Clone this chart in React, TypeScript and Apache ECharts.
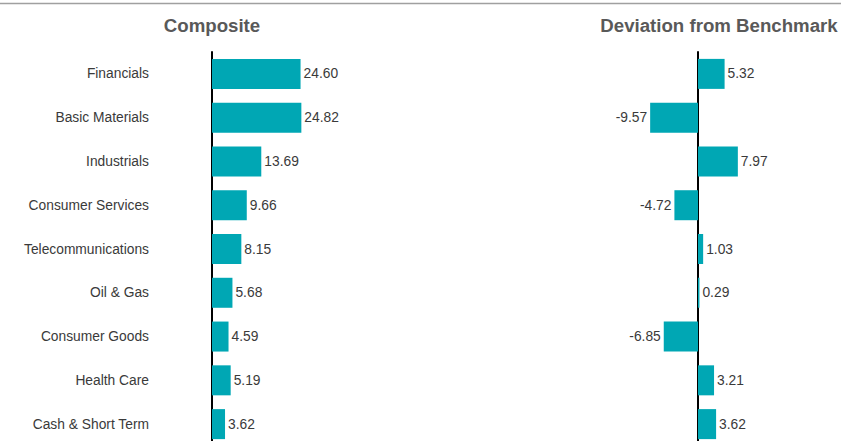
import React, { useEffect, useRef } from "react";
import * as echarts from "echarts";

const categories = [
  "Financials",
  "Basic Materials",
  "Industrials",
  "Consumer Services",
  "Telecommunications",
  "Oil & Gas",
  "Consumer Goods",
  "Health Care",
  "Cash & Short Term",
];
const compositeValues = [24.6, 24.82, 13.69, 9.66, 8.15, 5.68, 4.59, 5.19, 3.62];
const deviationValues = [5.32, -9.57, 7.97, -4.72, 1.03, 0.29, -6.85, 3.21, 3.62];
const panelTitles = ["Composite", "Deviation from Benchmark"];

const BAR = "#00A7B4";
const TXT = "#3a3a3a";
const FONT = "'Liberation Sans', Arial, sans-serif";

export default function App() {
  const ref = useRef<HTMLDivElement>(null);
  useEffect(() => {
    if (!ref.current) return;
    const chart = echarts.init(ref.current, null, { renderer: "svg" });
    const labelBase = {
      show: true,
      color: TXT,
      fontSize: 13.8,
      fontFamily: FONT,
      distance: 3,
      formatter: (p: any) => Number(p.value).toFixed(2),
    };
    chart.setOption({
      animation: false,
      backgroundColor: "#ffffff",
      grid: [
        { left: 212, top: 52, width: 108, height: 394, containLabel: false },
        { left: 638, top: 52, width: 120, height: 394, containLabel: false },
      ],
      xAxis: [
        { gridIndex: 0, type: "value", min: 0, max: 30, show: false },
        { gridIndex: 1, type: "value", min: -12, max: 12, show: false },
      ],
      yAxis: [
        {
          gridIndex: 0,
          type: "category",
          data: categories,
          inverse: true,
          axisLine: { show: true, lineStyle: { color: "#000", width: 2 } },
          axisTick: { show: false },
          splitLine: { show: false },
          axisLabel: {
            margin: 63,
            color: TXT,
            fontSize: 13.8,
            fontFamily: FONT,
          },
        },
        {
          gridIndex: 1,
          type: "category",
          data: categories,
          inverse: true,
          axisLine: { show: true, onZero: true, lineStyle: { color: "#000", width: 2 } },
          axisTick: { show: false },
          splitLine: { show: false },
          axisLabel: { show: false },
        },
      ],
      series: [
        {
          type: "bar",
          xAxisIndex: 0,
          yAxisIndex: 0,
          data: compositeValues,
          barWidth: 30,
          itemStyle: { color: BAR },
          label: { ...labelBase, position: "right" },
          z: 1,
        },
        {
          type: "bar",
          xAxisIndex: 1,
          yAxisIndex: 1,
          data: deviationValues.map((v) => ({
            value: v,
            label: { position: v < 0 ? "left" : "right" },
          })),
          barWidth: 30,
          itemStyle: { color: BAR },
          label: { ...labelBase },
          z: 1,
        },
      ],
      graphic: [
        {
          type: "line",
          shape: { x1: 0, y1: 3.5, x2: 841, y2: 3.5 },
          style: { stroke: "#a0a0a0", lineWidth: 1.5 },
        },
        {
          type: "text",
          x: 212,
          y: 25,
          style: {
            text: panelTitles[0],
            textAlign: "center",
            textVerticalAlign: "middle",
            fontSize: 18.67,
            fontWeight: "bold",
            fontFamily: FONT,
            fill: "#595959",
          },
        },
        {
          type: "text",
          x: 719,
          y: 25,
          style: {
            text: panelTitles[1],
            textAlign: "center",
            textVerticalAlign: "middle",
            fontSize: 18.67,
            fontWeight: "bold",
            fontFamily: FONT,
            fill: "#595959",
          },
        },
      ],
    });
    return () => chart.dispose();
  }, []);
  return (
    <div
      style={{
        position: "absolute",
        left: 0,
        top: 0,
        width: 841,
        height: 441,
        overflow: "hidden",
        background: "#fff",
      }}
    >
      <div ref={ref} style={{ width: 841, height: 470 }} />
    </div>
  );
}
